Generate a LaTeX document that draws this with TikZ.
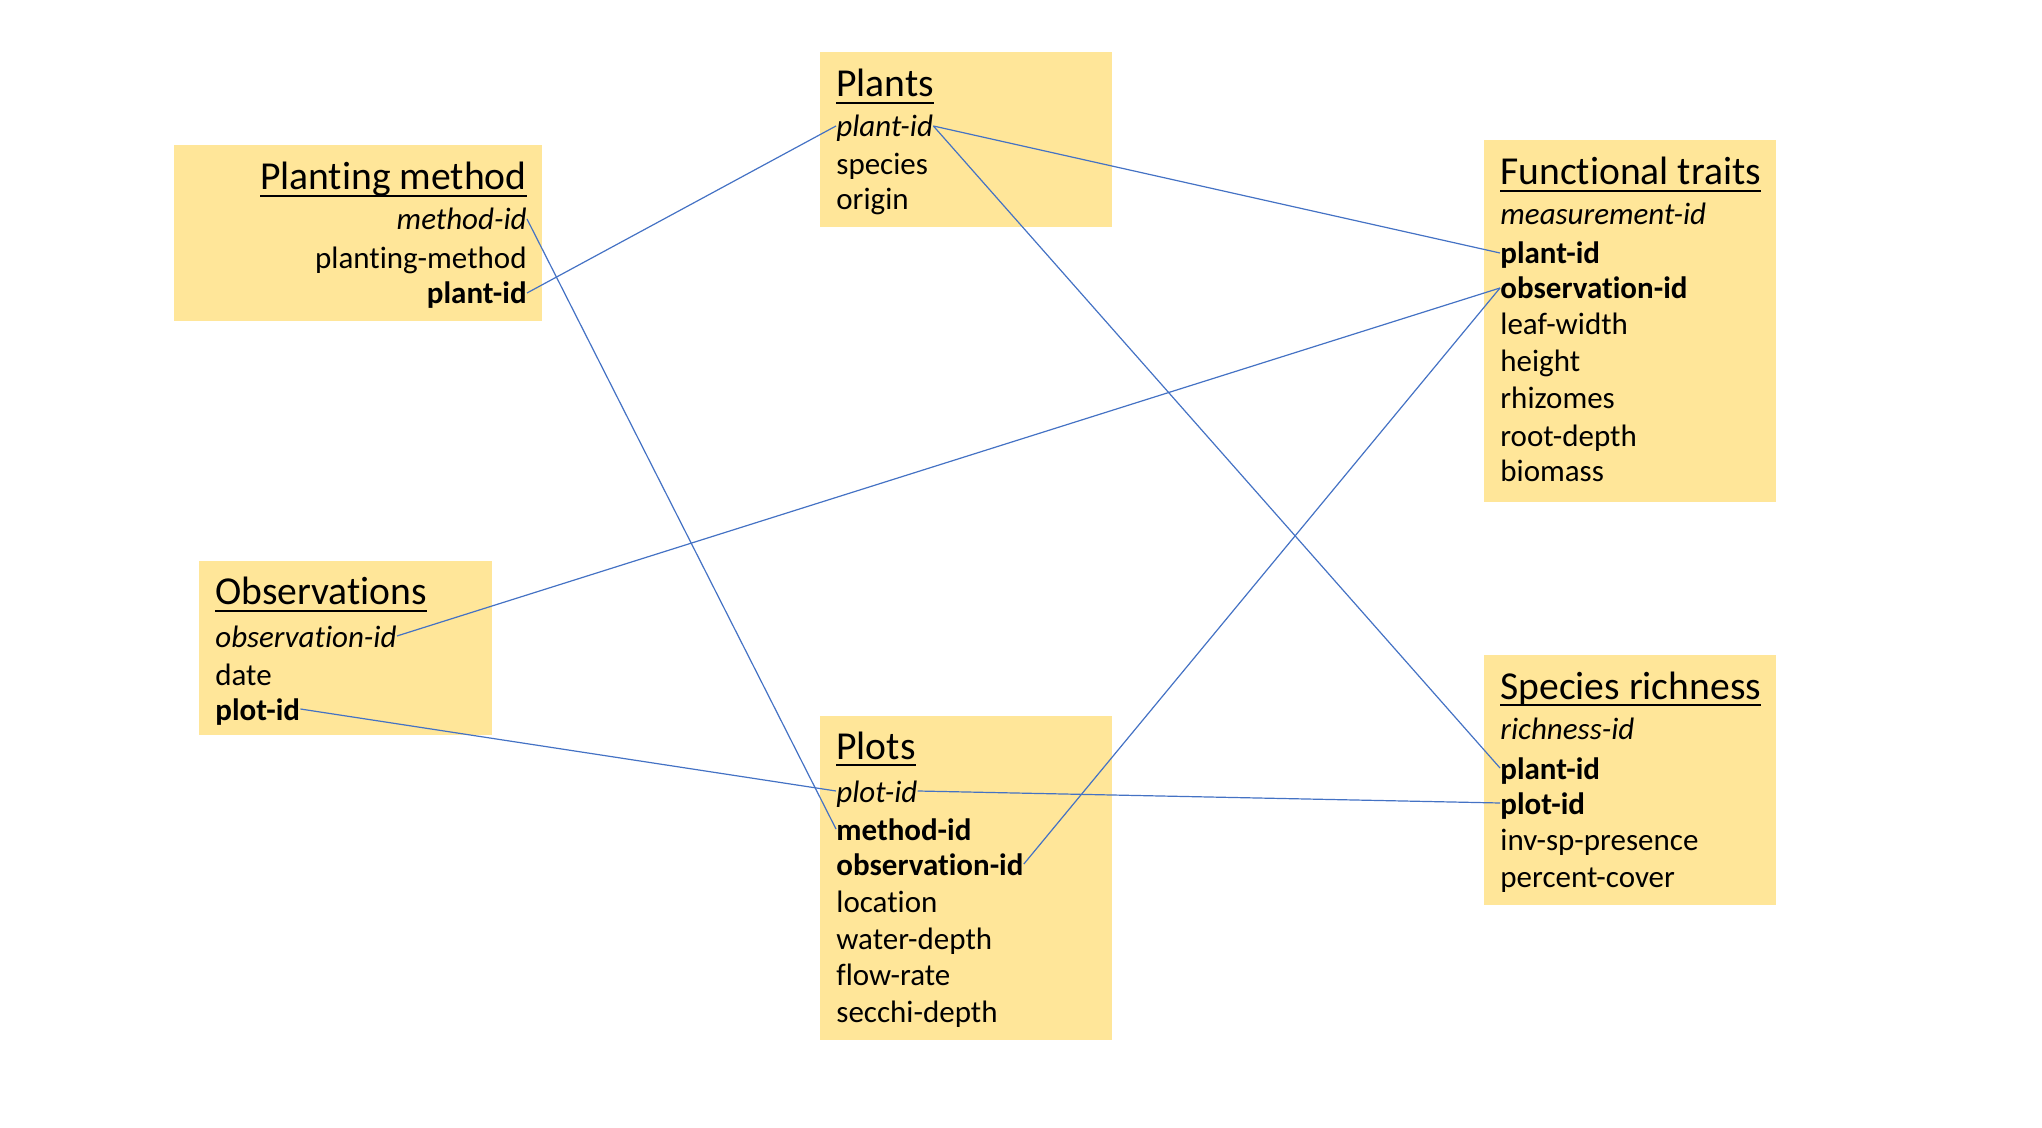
\documentclass[tikz,border=0pt]{standalone}
\usepackage{fontspec}
\setmainfont{Carlito}[Ligatures=NoCommon]
\newcommand{\hdline}[1]{\setbox0\hbox{#1}\rlap{\rule[-3.6pt]{\wd0}{1.2pt}}\box0}
\definecolor{tablefill}{HTML}{FFE699}
\definecolor{linkblue}{HTML}{4472C4}

\begin{document}
\begin{tikzpicture}
[x=0.5pt,y=-0.5pt,every node/.style={inner sep=0pt,font=\fontsize{15.5}{18}\selectfont}]
\tikzset{field/.style = {anchor=base west,text height=11pt,text depth=0pt,yshift=-1pt}}
\tikzset{rfield/.style = {field,anchor=base east}}
\tikzset{title/.style = {anchor=base west,yshift=-1pt,font=\fontsize{19.8}{23}\selectfont}}
\tikzset{table/.style = {fill=tablefill}}
\tikzset{link/.style = {draw=linkblue,line width=0.6pt}}
  \useasboundingbox (0,0) rectangle (2042,1128);
  \fill[table] (174,145) rectangle (542,321);
  \fill[table] (820,52) rectangle (1112,227);
  \fill[table] (1484,140) rectangle (1776,502);
  \fill[table] (199,561) rectangle (492,735);
  \fill[table] (820,716) rectangle (1112,1040);
  \fill[table] (1484,655) rectangle (1776,905);
  \node[title,anchor=base east] (pm) at (527,188){\hdline{Planting method}};
  \node[rfield] (pm1) at (527,228){\itshape method-id};
  \node[rfield] (pm2) at (527,267){planting-method};
  \node[rfield] (pm3) at (527,302){\bfseries plant-id};
  \node[title] (pl) at (836,95){\hdline{Plants}};
  \node[field] (pl1) at (836,135){\itshape plant-id};
  \node[field] (pl2) at (836,173){species};
  \node[field] (pl3) at (836,208){origin};
  \node[title] (ft) at (1500,183){\hdline{Functional traits}};
  \node[field] (ft1) at (1500,223){\itshape measurement-id};
  \node[field] (ft2) at (1500,262){\bfseries plant-id};
  \node[field] (ft3) at (1500,297){\bfseries observation-id};
  \node[field] (ft4) at (1500,333){leaf-width};
  \node[field] (ft5) at (1500,370){height};
  \node[field] (ft6) at (1500,407){rhizomes};
  \node[field] (ft7) at (1500,445){root-depth};
  \node[field] (ft8) at (1500,480){biomass};
  \node[title] (ob) at (215,603){\hdline{Observations}};
  \node[field] (ob1) at (215,645){\itshape observation-id};
  \node[field] (ob2) at (215,683){date};
  \node[field] (ob3) at (215,718){\bfseries plot-id};
  \node[title] (po) at (836,757){\hdline{Plots}};
  \node[field] (po1) at (836,800){\itshape plot-id};
  \node[field] (po2) at (836,838){\bfseries method-id};
  \node[field] (po3) at (836,873){\bfseries observation-id};
  \node[field] (po4) at (836,910){location};
  \node[field] (po5) at (836,947){water-depth};
  \node[field] (po6) at (836,983){flow-rate};
  \node[field] (po7) at (836,1020){secchi-depth};
  \node[title] (sr) at (1500,697){\hdline{Species richness}};
  \node[field] (sr1) at (1500,738){\itshape richness-id};
  \node[field] (sr2) at (1500,777){\bfseries plant-id};
  \node[field] (sr3) at (1500,812){\bfseries plot-id};
  \node[field] (sr4) at (1500,848){inv-sp-presence};
  \node[field] (sr5) at (1500,885){percent-cover};
  \draw[link] (pm3.east) -- (pl1.west);
  \draw[link] (pm1.east) -- (po2.west);
  \draw[link] (pl1.east) -- (ft2.west);
  \draw[link] (pl1.east) -- (sr2.west);
  \draw[link] (ob1.east) -- (ft3.west);
  \draw[link] (po3.east) -- (ft3.west);
  \draw[link] (ob3.east) -- (po1.west);
  \draw[link] (po1.east) -- (sr3.west);
\end{tikzpicture}
\end{document}
